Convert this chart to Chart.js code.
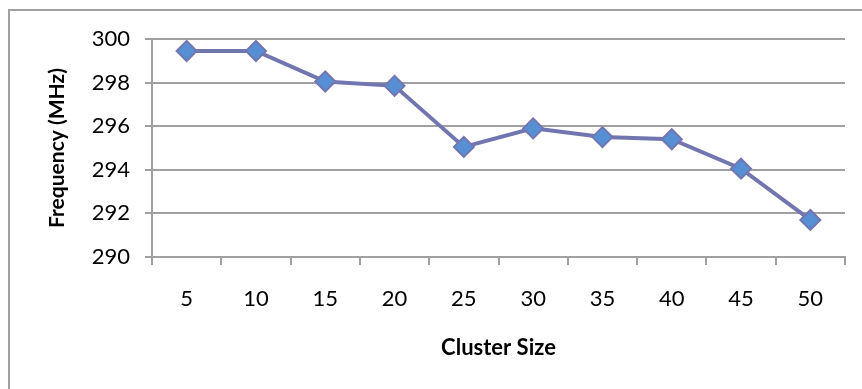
<!DOCTYPE html>
<html>
<head>
<meta charset="utf-8">
<script src="https://cdn.jsdelivr.net/npm/chart.js@4.4.1/dist/chart.umd.min.js"></script>
<style>
  html, body { margin: 0; padding: 0; background: #fff; overflow: hidden; }
  canvas { display: block; }
</style>
</head>
<body>
<canvas id="c" width="862" height="389"></canvas>
<script>
// Operating frequency versus cluster size
const clusterSizes = ['5', '10', '15', '20', '25', '30', '35', '40', '45', '50'];
const frequencyMHz = [299.45, 299.45, 298.05, 297.85, 295.05, 295.9, 295.5, 295.4, 294.05, 291.7];
const yMin = 290;
const yMax = 300;
const yStep = 2;

const GRAY = '#a0a0a0';
const FONT = 'Lato, "Liberation Sans", sans-serif';

// Frame around the chart (left and top edges visible)
const framePlugin = {
  id: 'frame',
  beforeDraw(chart) {
    const ctx = chart.ctx;
    ctx.save();
    ctx.strokeStyle = GRAY;
    ctx.lineWidth = 2;
    ctx.beginPath();
    ctx.moveTo(9, chart.height + 2);
    ctx.lineTo(9, 10);
    ctx.lineTo(chart.width + 2, 10);
    ctx.stroke();
    ctx.restore();
  }
};

new Chart(document.getElementById('c'), {
  type: 'line',
  data: {
    labels: clusterSizes,
    datasets: [{
      data: frequencyMHz,
      borderColor: '#7276b0',
      borderWidth: 4,
      backgroundColor: '#568fd3',
      pointStyle: 'rectRot',
      pointRadius: 10,
      pointBorderWidth: 2,
      pointBorderColor: '#7276b0',
      pointBackgroundColor: '#568fd3',
      tension: 0,
      fill: false
    }]
  },
  options: {
    responsive: false,
    animation: false,
    devicePixelRatio: 1,
    layout: { padding: { left: 0, top: 39, right: 17, bottom: 0 } },
    plugins: {
      legend: { display: false },
      tooltip: { enabled: false }
    },
    scales: {
      x: {
        offset: true,
        afterFit(scale) { scale.height = 132; },
        grid: {
          display: true,
          offset: true,
          drawOnChartArea: false,
          drawTicks: true,
          tickLength: 8,
          color: GRAY,
          lineWidth: 2
        },
        border: { display: true, color: GRAY, width: 2 },
        ticks: {
          color: '#000',
          font: { family: FONT, size: 22 },
          padding: 21,
          maxRotation: 0,
          autoSkip: false
        },
        title: {
          display: true,
          text: 'Cluster Size',
          color: '#000',
          font: { family: FONT, size: 22, weight: 'bold' },
          padding: { top: 0, bottom: 28 }
        }
      },
      y: {
        min: yMin,
        max: yMax,
        afterFit(scale) { scale.width = 152; },
        grid: {
          color: GRAY,
          lineWidth: 2,
          drawTicks: true,
          tickLength: 7
        },
        border: { display: true, color: GRAY, width: 2 },
        ticks: {
          stepSize: yStep,
          color: '#000',
          font: { family: FONT, size: 22 },
          padding: 15
        },
        title: {
          display: true,
          text: 'Frequency (MHz)',
          color: '#000',
          font: { family: FONT, size: 21, weight: 'bold' },
          padding: { top: 45, bottom: 0 }
        }
      }
    }
  },
  plugins: [framePlugin]
});
</script>
</body>
</html>
